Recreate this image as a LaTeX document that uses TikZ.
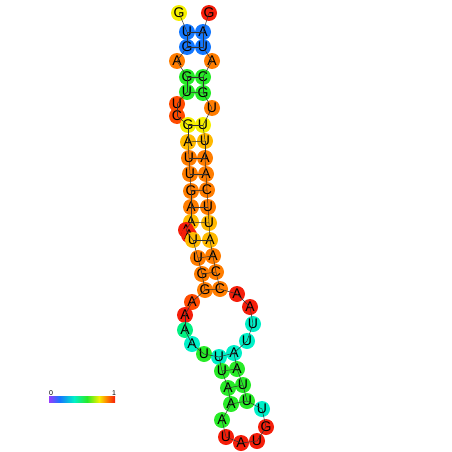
\documentclass[tikz,border=0pt]{standalone}
\usepackage{fontspec}
\setmainfont{Liberation Sans}
\definecolor{cR}{RGB}{245,30,10}
\definecolor{cRO}{RGB}{255,75,0}
\definecolor{cO}{RGB}{255,125,0}
\definecolor{cYO}{RGB}{255,185,0}
\definecolor{cY}{RGB}{245,240,0}
\definecolor{cG}{RGB}{40,235,40}
\definecolor{cM}{RGB}{0,240,130}
\definecolor{cC}{RGB}{0,240,200}
\definecolor{cB}{RGB}{20,120,255}
\definecolor{cP}{RGB}{150,60,255}
\tikzset{
  base/.style={circle, minimum size=16pt, inner sep=0pt, font=\fontsize{14}{14}\selectfont},
  bb/.style={line width=0.5pt, draw=black!80},
  pr/.style={line width=0.5pt, draw=black!80},
  lbl/.style={inner sep=0pt, font=\fontsize{7}{7}\selectfont}
}
\begin{document}
\begin{tikzpicture}[x=1pt,y=-1pt]
\useasboundingbox (0,0) rectangle (452,452);
\foreach \i/\x/\y/\l/\c in {
 1/179/13/G/cY, 2/187/32/U/cB, 3/187/47/G/cB, 4/177/61/A/cO,
 5/187/77/G/cG, 6/187/92/U/cG, 7/177/104/U/cRO, 8/177/116/C/cRO,
 9/188/125/G/cY, 10/188/142/A/cYO, 11/189/158/U/cO, 12/190/174/U/cO,
 13/191/191/G/cO, 14/191/207/A/cO, 15/191/222/A/cYO, 16/186/230/A/cR,
 17/189/235/A/cR, 18/193/240/U/cYO, 19/198/258/U/cO, 20/202/274/G/cO,
 21/205/290/G/cO, 22/192/302/A/cRO, 23/185/315/A/cR, 24/185/330/A/cM,
 25/192/344/A/cC, 26/204/354/U/cG, 27/219/357/U/cC, 28/222/371/U/cG,
 29/228/388/A/cG, 30/231/404/A/cG, 31/222/420/A/cG, 32/226/437/U/cR,
 33/241/443/A/cR, 34/257/441/U/cR, 35/266/427/G/cR, 36/262/409/U/cC,
 37/247/401/U/cG, 38/243/385/U/cG, 39/237/369/A/cG, 40/234/353/A/cC,
 41/247/341/U/cC, 42/253/324/U/cC, 43/250/307/A/cR, 44/237/294/A/cR,
 45/220/289/C/cO, 46/216/272/C/cO, 47/213/256/A/cO, 48/210/240/A/cYO,
 49/209/223/U/cYO, 50/208/207/U/cO, 51/207/190/C/cO, 52/206/174/A/cO,
 53/205/158/A/cO, 54/205/141/U/cYO, 55/203/125/U/cY, 56/212/108/U/cO,
 57/203/93/G/cG, 58/203/77/C/cG, 59/212/61/A/cO, 60/203/47/U/cB,
 61/203/32/A/cB, 62/209/13/G/cR}
 \node[base, fill=\c] (n\i) at (\x,\y) {\l};
\foreach \i [evaluate=\i as \j using int(\i+1)] in {1,...,61}
 \draw[bb] (n\i.center) -- (n\j.center);
\foreach \a/\b in {2/61,3/60,5/58,6/57,9/55,10/54,11/53,12/52,13/51,14/50,15/49,
 18/48,19/47,20/46,21/45,27/40,28/39,29/38,30/37}
 \draw[pr] (n\a.center) -- (n\b.center);
% colour bar
\shade[left color=cP, right color=cB] (49,396) rectangle (60,402);
\shade[left color=cB, right color=cC] (60,396) rectangle (74,402);
\shade[left color=cC, right color=cG] (74,396) rectangle (87,402);
\shade[left color=cG, right color=cY] (87,396) rectangle (99,402);
\shade[left color=cY, right color=cO] (99,396) rectangle (107,402);
\shade[left color=cO, right color=cR] (107,396) rectangle (115,402);
\node[lbl] (zero) at (51,393) {0};
\node[lbl] (one) at (114,393) {1};
\end{tikzpicture}
\end{document}
